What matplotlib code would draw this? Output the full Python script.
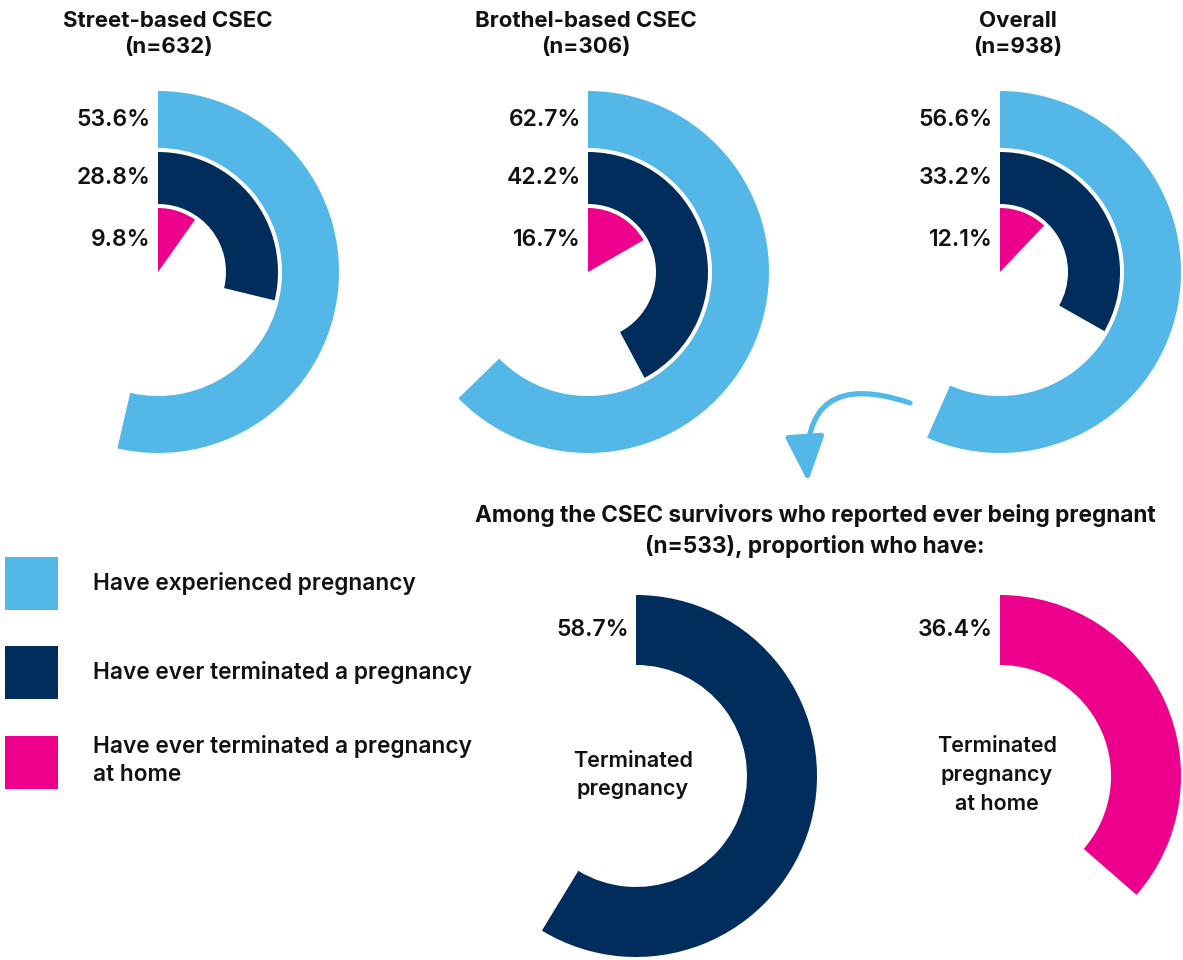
import numpy as np
import matplotlib
matplotlib.use('Agg')
import matplotlib.pyplot as plt
from matplotlib.patches import Patch

plt.rcParams['font.family'] = ['Inter', 'DejaVu Sans']

# data
groups = ['Street-based CSEC\n(n=632)', 'Brothel-based CSEC\n(n=306)', 'Overall\n(n=938)']
pregnant = [53.6, 62.7, 56.6]
terminated = [28.8, 42.2, 33.2]
terminated_home = [9.8, 16.7, 12.1]

sub_title = 'Among the CSEC survivors who reported ever being pregnant\n(n=533), proportion who have:'
sub_labels = ['Terminated\npregnancy', 'Terminated\npregnancy\nat home']
sub_values = [58.7, 36.4]

legend_labels = ['Have experienced pregnancy',
                 'Have ever terminated a pregnancy',
                 'Have ever terminated a pregnancy\nat home']

LIGHT = '#53B8E8'
NAVY = '#002D5C'
PINK = '#EC008C'
INK = '#111111'

W, H = 1183, 960
fig = plt.figure(figsize=(W / 100, H / 100), dpi=100)

# background axes in pixel units, for text and the arrow
ax0 = fig.add_axes([0, 0, 1, 1])
ax0.set_xlim(0, W)
ax0.set_ylim(H, 0)
ax0.set_axis_off()


def ring_axes(cx, cy, R=190):
    ax = fig.add_axes([(cx - R) / W, 1 - (cy + R) / H, 2 * R / W, 2 * R / H],
                      projection='polar')
    ax.set_theta_zero_location('N')
    ax.set_theta_direction(-1)
    ax.set_ylim(0, R)
    ax.set_axis_off()
    return ax


def ring(ax, pct, r0, r1, color, label):
    ax.bar(0, r1 - r0, width=pct / 100 * 2 * np.pi, bottom=r0,
           align='edge', color=color, linewidth=0)
    ax.annotate(label, xy=(0, (r0 + r1) / 2), xytext=(-7, 0),
                textcoords='offset pixels', ha='right', va='center',
                fontsize=16.5, fontweight=600, color=INK)


centers_x = [158, 588, 1000]
title_x = [168, 586, 1018]
for i in range(3):
    ax = ring_axes(centers_x[i], 272)
    ring(ax, pregnant[i], 124, 181, LIGHT, f'{pregnant[i]}%')
    ring(ax, terminated[i], 68, 120, NAVY, f'{terminated[i]}%')
    ring(ax, terminated_home[i], 0, 64, PINK, f'{terminated_home[i]}%')
    ax0.text(title_x[i], 34, groups[i], ha='center', va='center', color=INK,
             fontsize=16, fontweight=700, linespacing=1.4)

# lower rings
sub_cx = [636, 1000]
sub_colors = [NAVY, PINK]
for i in range(2):
    ax = ring_axes(sub_cx[i], 776)
    ring(ax, sub_values[i], 111, 181, sub_colors[i], f'{sub_values[i]}%')
    ax0.text(sub_cx[i] - 3, 775, sub_labels[i], ha='center', va='center', color=INK,
             fontsize=15.5, fontweight=600, linespacing=1.55)

ax0.text(815, 531, sub_title, ha='center', va='center', color=INK,
         fontsize=16.3, fontweight=700, linespacing=1.4)

# curved arrow
ax0.annotate('', xy=(808, 482), xytext=(910, 403),
             arrowprops=dict(arrowstyle='-|>,head_length=1.4,head_width=0.6',
                             connectionstyle='arc3,rad=0.75', color=LIGHT,
                             lw=3.8, mutation_scale=20, shrinkA=0, shrinkB=0))

# legend
handles = [Patch(facecolor=c, edgecolor='none') for c in [LIGHT, NAVY, PINK]]
fs = 16.3
px = fs * 100 / 72
hh = (53 / px - 0.245) / 0.65
leg = fig.legend(handles, legend_labels, loc='upper left',
                 bbox_to_anchor=(5 / W, 1 - 557 / H), frameon=False,
                 borderpad=0, borderaxespad=0,
                 handlelength=53 / px, handleheight=hh,
                 handletextpad=35 / px, labelspacing=36 / px,
                 prop={'size': fs, 'weight': 600})
for t in leg.get_texts():
    t.set_color(INK)
    t.set_linespacing(1.35)

fig.savefig('out.png', dpi=100)
